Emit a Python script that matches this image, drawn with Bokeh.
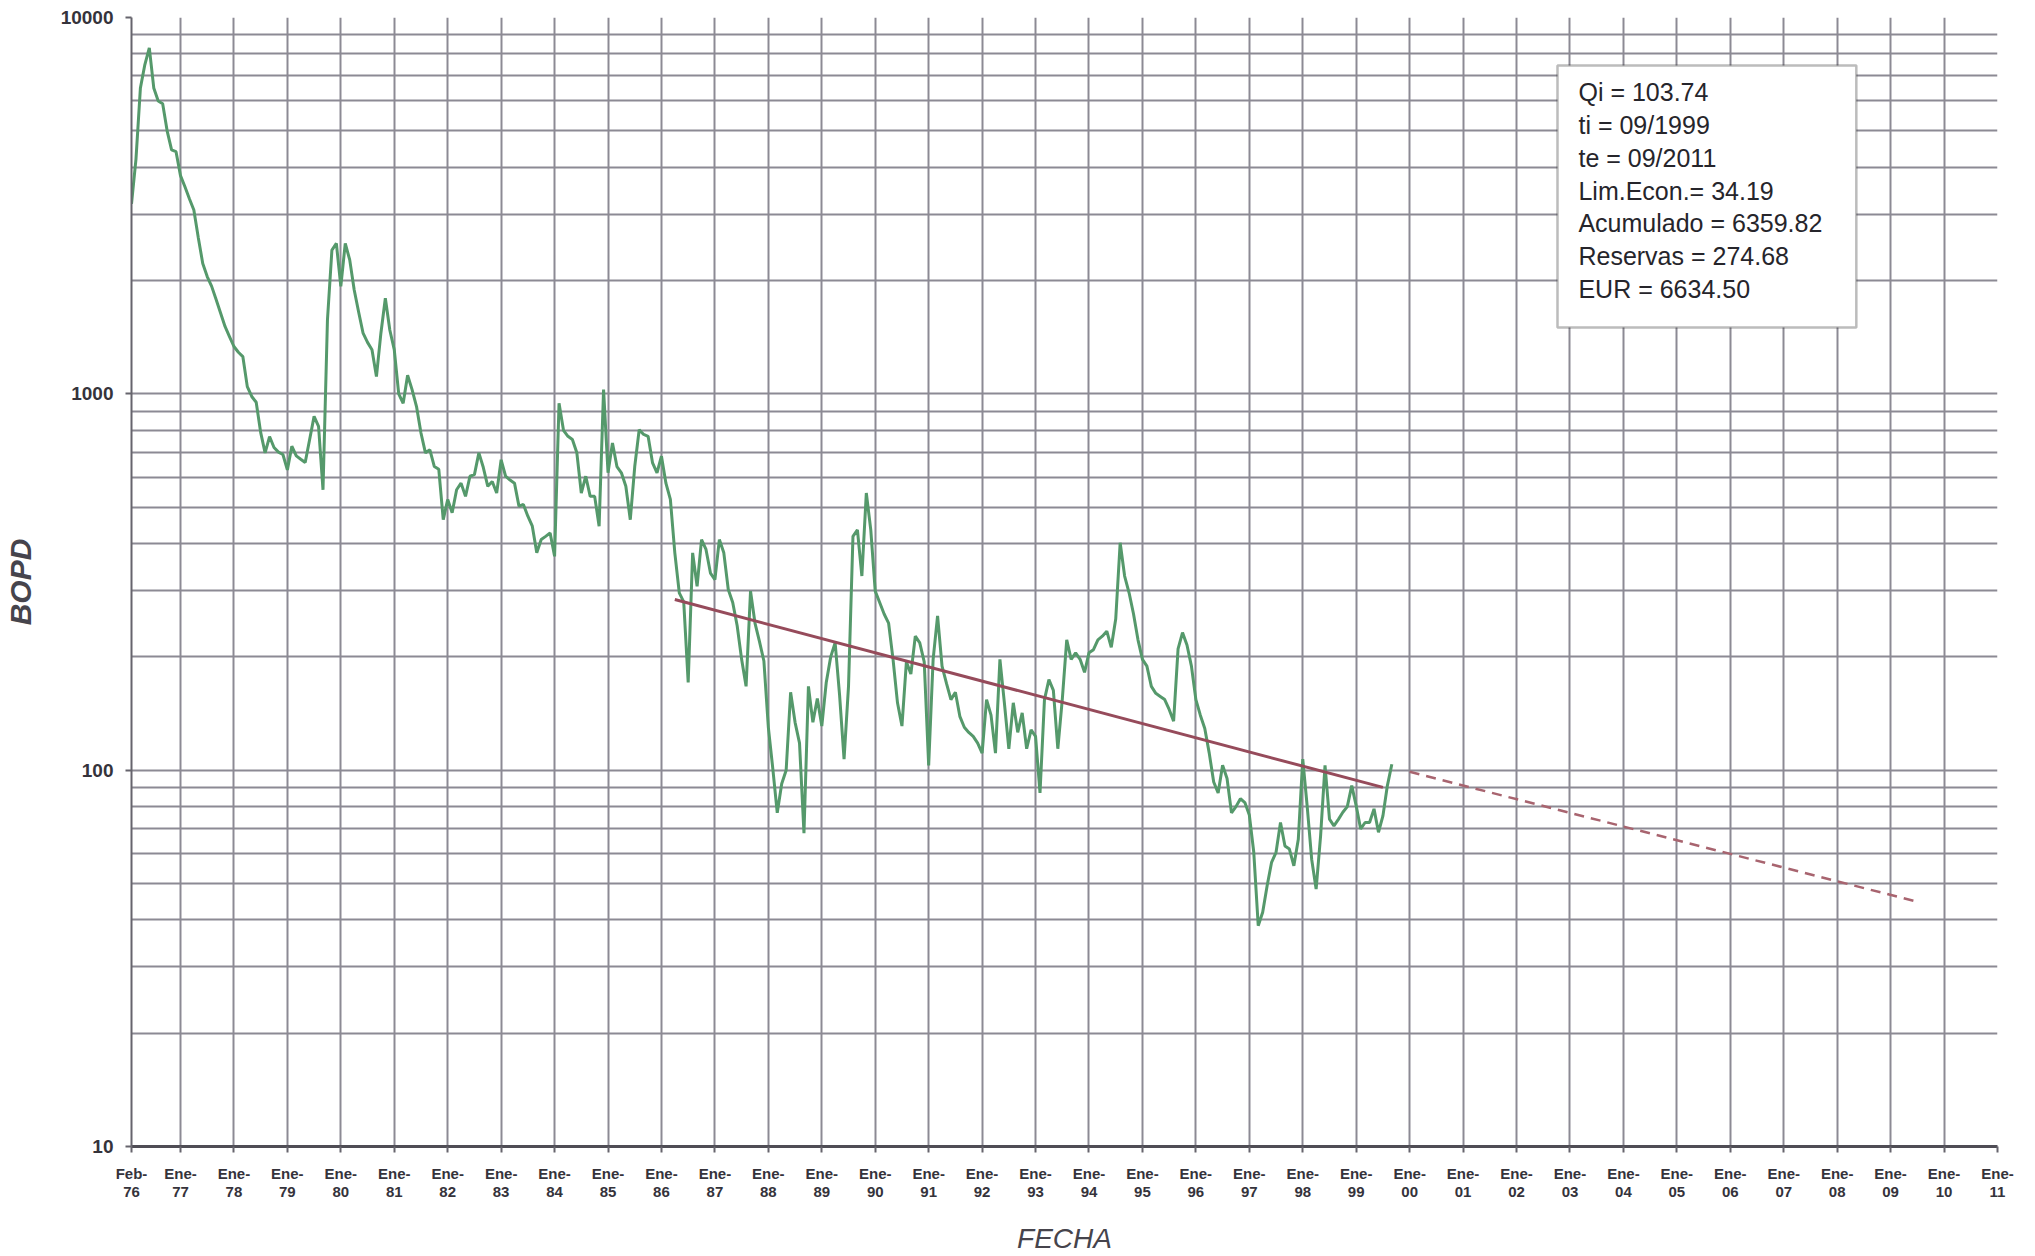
import pandas as pd
from bokeh.plotting import figure
from bokeh.models import FixedTicker, NumeralTickFormatter, Label, BoxAnnotation
from bokeh.embed import file_html
from bokeh.resources import INLINE

# ---------------- data ----------------
inicio = "1976-02"          # first monthly value
bopd = [
    3200, 4200, 6500, 7500, 8300, 6500, 6000, 5900, 5000, 4450, 4400,            # Feb-Dec 76
    3800, 3550, 3300, 3080, 2600, 2220, 2050, 1930, 1780, 1640, 1510, 1420,      # 77
    1336, 1290, 1256, 1045, 984, 950, 790, 697, 770, 720, 700, 690,              # 78
    628, 726, 684, 670, 657, 756, 871, 820, 556, 1571, 2410, 2510,               # 79
    1930, 2510, 2270, 1890, 1650, 1449, 1370, 1310, 1111, 1449, 1795, 1478,      # 80
    1310, 1000, 944, 1120, 1026, 925, 787, 697, 710, 641, 630, 463,              # 81
    524, 483, 556, 579, 534, 604, 610, 697, 637, 568, 585, 545,                  # 82
    668, 604, 590, 579, 503, 508, 473, 445, 378, 410, 418, 427,                  # 83
    370, 944, 800, 771, 756, 697, 545, 604, 534, 534, 445, 1026,                 # 84
    617, 740, 641, 617, 568, 463, 641, 803, 780, 771, 655, 617,                  # 85
    683, 579, 524, 378, 296, 280, 171, 378, 308, 410, 386, 334,                  # 86
    321, 410, 378, 302, 279, 242, 197, 167, 299, 246, 220, 195,                  # 87
    130, 101, 77, 92, 100, 161, 134, 118, 68, 167, 134, 155,                     # 88
    131, 171, 200, 218, 158, 107, 167, 418, 435, 328, 545, 435,                  # 89
    299, 279, 260, 246, 197, 151, 131, 194, 180, 227, 218, 194,                  # 90
    103, 197, 257, 189, 170, 154, 161, 139, 130, 126, 123, 118,                  # 91
    111, 154, 140, 111, 197, 151, 114, 151, 126, 142, 114, 128,                  # 92
    123, 87, 154, 174, 163, 114, 154, 222, 197, 205, 197, 182,                   # 93
    205, 209, 222, 227, 234, 212, 252, 402, 328, 296, 260, 222,                  # 94
    197, 189, 167, 160, 157, 154, 145, 135, 210, 232, 215, 189,                  # 95
    154, 140, 129, 111, 93, 87, 103, 95, 77, 80, 84, 82,                         # 96
    76, 60.5, 38.6, 41.9, 49.3, 56.9, 60.5, 72.6, 62.9, 61.7, 55.7, 65.5,        # 97
    107, 80, 58, 48.3, 66.8, 103, 74.1, 71.1, 74, 77.3, 80, 91,                  # 98
    80.4, 69.8, 72.6, 72.6, 78.9, 68.4, 75.6, 91, 103.7,                         # 99 (Jan-Sep)
]

# fitted exponential decline (solid) and forecast (dashed)
tend_fechas = ["1986-04", "1999-07"]
tend_bopd = [284, 90]
pron_fechas = ["2000-01", "2009-07"]
pron_bopd = [99, 44.7]

# axis ticks
tick_fechas = ["1976-02"] + [f"{a}-01" for a in range(1977, 2012)]
tick_textos = ["Feb-\n76", "Ene-\n77", "Ene-\n78", "Ene-\n79", "Ene-\n80", "Ene-\n81",
               "Ene-\n82", "Ene-\n83", "Ene-\n84", "Ene-\n85", "Ene-\n86", "Ene-\n87",
               "Ene-\n88", "Ene-\n89", "Ene-\n90", "Ene-\n91", "Ene-\n92", "Ene-\n93",
               "Ene-\n94", "Ene-\n95", "Ene-\n96", "Ene-\n97", "Ene-\n98", "Ene-\n99",
               "Ene-\n00", "Ene-\n01", "Ene-\n02", "Ene-\n03", "Ene-\n04", "Ene-\n05",
               "Ene-\n06", "Ene-\n07", "Ene-\n08", "Ene-\n09", "Ene-\n10", "Ene-\n11"]
y_ticks = [10, 100, 1000, 10000]

cuadro = ["Qi = 103.74", "ti = 09/1999", "te = 09/2011", "Lim.Econ.= 34.19",
          "Acumulado = 6359.82", "Reservas = 274.68", "EUR = 6634.50"]


def mes(s):
    """months since Jan-1976"""
    a, m = map(int, s.split("-"))
    return (a - 1976) * 12 + (m - 1)


m0 = mes(inicio)
x_prod = [m0 + i for i in range(len(bopd))]
x_tend = [mes(s) for s in tend_fechas]
x_pron = [mes(s) for s in pron_fechas]
x_ticks = [mes(s) for s in tick_fechas]

# ---------------- styling ----------------
FONT = "Liberation Sans"
GRID = "#8c8a94"
TXT = "#35333b"

p = figure(frame_width=1866, frame_height=1129,
           x_range=(x_ticks[0], x_ticks[-1]), y_range=(10, 10000),
           y_axis_type="log", output_backend="svg", toolbar_location=None,
           min_border_left=130, min_border_top=17, min_border_right=39,
           min_border_bottom=100, background_fill_color="white",
           border_fill_color="white")
p.outline_line_color = None

# grid
minor = [k * 10 ** d for d in range(1, 4) for k in range(2, 10)]
p.yaxis.ticker = FixedTicker(ticks=y_ticks, minor_ticks=minor)
p.xaxis.ticker = FixedTicker(ticks=x_ticks)
p.xgrid.grid_line_color = GRID
p.xgrid.grid_line_width = 2
p.ygrid.grid_line_color = GRID
p.ygrid.grid_line_width = 2
p.ygrid.minor_grid_line_color = GRID
p.ygrid.minor_grid_line_width = 2

# axes
p.yaxis.formatter = NumeralTickFormatter(format="0")
p.xaxis.major_label_overrides = {t: s for t, s in zip(x_ticks, tick_textos)}
for ax in (p.xaxis, p.yaxis):
    ax.major_tick_in = 0
    ax.major_tick_out = 6
    ax.minor_tick_line_color = None
    ax.major_tick_line_color = "#66646d"
    ax.major_tick_line_width = 2
    ax.major_label_text_font = FONT
    ax.major_label_text_font_style = "bold"
    ax.major_label_text_color = TXT
    ax.axis_label_text_font = FONT
    ax.axis_label_text_font_style = "italic"
    ax.axis_label_text_color = "#46444c"
p.yaxis.axis_line_color = "#66646d"
p.yaxis.axis_line_width = 2
p.xaxis.axis_line_color = "#4f4d55"
p.xaxis.axis_line_width = 3
p.yaxis.major_label_text_font_size = "19px"
p.yaxis.major_label_standoff = 12
p.xaxis.major_label_text_font_size = "15px"
p.xaxis.major_label_standoff = 12
p.xaxis.major_label_text_line_height = 1.1

p.yaxis.axis_label = "BOPD"
p.yaxis.axis_label_text_font_size = "30px"
p.yaxis.axis_label_text_font_style = "bold italic"
p.yaxis.axis_label_standoff = 21
p.xaxis.axis_label = "FECHA"
p.xaxis.axis_label_text_font_size = "28px"
p.xaxis.axis_label_standoff = 20

# series
p.line(x_prod, bopd, line_color="#55996b", line_width=3)
p.line(x_tend, tend_bopd, line_color="#964b5b", line_width=3)
p.line(x_pron, pron_bopd, line_color="#a8646f", line_width=2.5, line_dash="10 7")

# info box (placed in the upper right, in data coordinates of the frame)
box = BoxAnnotation(left=321.2, right=388.3, top=7456, bottom=1501,
                    fill_color="white", fill_alpha=1.0,
                    line_color="#222222", line_width=2.5, level="annotation")
p.add_layout(box)
lab = Label(x=325.9, y=6888, text="\n".join(cuadro), text_font=FONT,
            text_font_size="25px", text_color="#26252b", text_align="left",
            text_baseline="top", text_line_height=1.17)
p.add_layout(lab)

open("out.html", "w").write(file_html(p, INLINE))
